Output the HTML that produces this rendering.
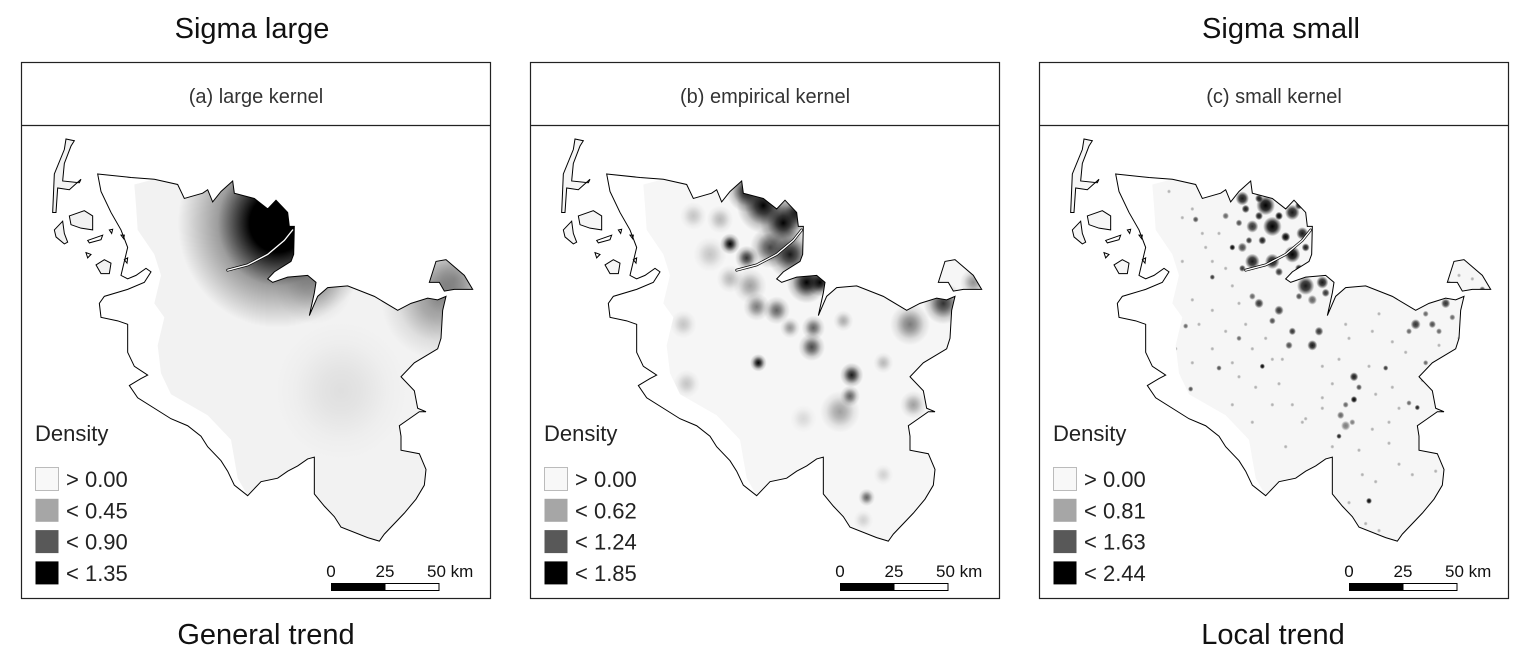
<!DOCTYPE html>
<html><head><meta charset="utf-8">
<style>
html,body{margin:0;padding:0;background:#fff;width:1528px;height:659px;overflow:hidden}
svg{display:block;font-family:"Liberation Sans",sans-serif}
</style></head>
<body>
<svg id="fig" width="1528" height="659" viewBox="0 0 1528 659" xmlns="http://www.w3.org/2000/svg">
<defs>
<radialGradient id="blob"><stop offset="0" stop-color="#000" stop-opacity="1"/><stop offset="0.3" stop-color="#000" stop-opacity="0.75"/><stop offset="0.7" stop-color="#000" stop-opacity="0.2"/><stop offset="1" stop-color="#000" stop-opacity="0"/></radialGradient>
<radialGradient id="dot"><stop offset="0" stop-color="#000" stop-opacity="1"/><stop offset="0.5" stop-color="#000" stop-opacity="0.8"/><stop offset="1" stop-color="#000" stop-opacity="0"/></radialGradient>
<radialGradient id="bigblob"><stop offset="0" stop-color="#000" stop-opacity="1"/><stop offset="0.28" stop-color="#000" stop-opacity="1"/><stop offset="0.6" stop-color="#000" stop-opacity="0.35"/><stop offset="1" stop-color="#000" stop-opacity="0"/></radialGradient>
</defs>
<text x="252" y="38" font-size="29" text-anchor="middle" fill="#111">Sigma large</text>
<text x="1281" y="38" font-size="29" text-anchor="middle" fill="#111">Sigma small</text>
<text x="266" y="644" font-size="29" text-anchor="middle" fill="#111">General trend</text>
<text x="1273" y="644" font-size="29" text-anchor="middle" fill="#111">Local trend</text>
<g id="panels"></g>
</svg>
<script>
const panelTitles = ["(a) large kernel","(b) empirical kernel","(c) small kernel"];
const legendA = ["> 0.00","< 0.45","< 0.90","< 1.35"];
const legendB = ["> 0.00","< 0.62","< 1.24","< 1.85"];
const legendC = ["> 0.00","< 0.81","< 1.63","< 2.44"];
const legendColors = ["#f8f8f8","#a6a6a6","#585858","#000000"];
const scaleTicks = ["0","25","50 km"];
// density kernels [x, y, radius, intensity] in map units
const blobsA = [[770,470,300,1],[960,950,200,0.08],[1250,690,170,0.4],[1300,630,110,0.3],[880,640,120,0.25]];
const blobsB = [[700,420,80,1],[760,470,70,1],[650,380,60,0.9],[800,440,50,0.9],[780,560,70,0.9],[720,540,60,0.7],[600,530,30,1],[650,570,35,0.8],[830,640,60,1],[870,640,40,1],[1240,700,60,0.8],[1140,760,60,0.5],[740,720,40,0.6],[680,710,40,0.5],[850,770,35,0.6],[845,825,40,0.7],[780,770,30,0.4],[685,870,25,1],[965,905,35,0.9],[960,965,30,0.6],[930,1010,60,0.35],[1010,1255,25,0.6],[490,450,40,0.2],[570,460,40,0.25],[460,760,40,0.2],[470,930,40,0.2],[1150,990,40,0.35],[1060,870,30,0.25],[940,750,30,0.3],[660,650,50,0.35],[600,630,40,0.25],[1330,640,40,0.4],[1060,1190,30,0.15],[1000,1320,30,0.15],[540,560,50,0.2],[820,1030,40,0.12]];
const blobsC = [[610,400,20,.9],[680,420,28,1],[700,480,28,1],[640,480,18,.8],[760,440,22,.9],[790,500,18,.9],[760,560,24,1],[700,580,22,.9],[640,580,22,.9],[610,540,14,.7],[580,540,9,1],[560,450,10,.6],[800,650,26,.9],[850,640,18,.9],[820,690,14,.6],[660,700,14,.8],[720,720,14,.8],[760,780,11,.8],[820,820,15,.9],[840,780,13,.8],[750,820,11,.7],[1130,760,15,.8],[1180,760,11,.7],[1220,700,14,.8],[1240,740,9,.6],[1330,660,9,.7],[945,910,13,.9],[945,975,10,1],[905,1020,11,.6],[920,1050,14,.5],[900,1080,8,.9],[990,1265,9,1],[670,880,8,1],[1040,885,8,.8],[1135,998,8,.9],[1110,985,8,.6],[470,460,9,.7],[520,625,8,.8],[455,945,8,.7],[540,885,8,.7],[440,765,8,.6],[600,800,8,.6],[1160,870,8,.6],
 [620,430,12,.9],[660,400,12,.9],[730,400,14,1],[780,420,12,.9],[720,450,12,1],[660,450,12,.9],[600,470,10,.7],[740,510,14,1],[800,540,12,.9],[670,520,12,.9],[630,520,10,.8],[720,610,12,.8],[780,600,12,.9],[610,600,10,.8],[860,670,12,.8],[780,680,10,.7],[700,750,10,.7],[640,680,10,.6],[1200,780,9,.6],[1160,730,9,.6],[1110,780,9,.6],[960,940,9,.7],[920,990,9,.6],[940,1040,9,.5]];
const dotsC = [[390,380],[430,455],[460,430],[490,500],[520,580],[560,600],[430,580],[400,630],[460,690],[480,760],[520,830],[580,870],[600,910],[650,940],[720,930],[760,990],[800,1030],[850,970],[880,930],[990,880],[1010,960],[1060,940],[1080,1000],[1000,1060],[1050,1100],[1080,1160],[1120,1190],[970,1190],[1010,1210],[930,1270],[980,1330],[1020,1350],[740,1110],[790,1040],[700,860],[640,830],[560,780],[1000,780],[1060,810],[1020,730],[1200,820],[1260,620],[1300,630],[1230,640],[350,510],[410,830],[460,870],[580,990],[920,760],[930,800],[500,540],[540,500],[580,650],[620,760],[680,800],[730,860],[850,880],[900,860],[1100,840],[1150,920],[1050,1040],[960,1120],[880,1110],[1150,1060],[1190,1180],[850,1000],[700,990],[640,1040],[600,700],[520,720],[1120,700],[1260,800]];

const outline = "M230,330 L330,340 400,345 470,360 490,400 545,385 560,375 575,410 600,380 635,350 640,385 700,400 740,430 765,405 800,440 805,480 820,480 818,560 810,580 760,610 740,630 755,640 800,625 860,620 885,640 880,670 865,735 890,680 920,655 980,650 1060,680 1130,720 1170,700 1220,685 1250,690 1275,680 1265,720 1260,800 1250,830 1180,870 1140,910 1180,950 1190,1000 1215,1010 1195,1010 1165,1030 1135,1050 1140,1080 1140,1120 1195,1130 1215,1175 1210,1220 1185,1260 1150,1300 1090,1360 1075,1380 1040,1370 960,1340 940,1310 910,1280 880,1245 880,1200 880,1140 860,1145 830,1165 800,1180 770,1200 720,1210 700,1230 680,1250 640,1220 620,1180 600,1150 560,1110 540,1080 500,1050 450,1030 400,1000 350,970 325,935 360,915 380,905 340,880 320,840 320,800 320,760 290,750 240,740 235,700 250,680 320,660 370,640 390,610 375,600 345,620 320,630 300,620 310,580 320,540 300,490 270,440 240,380 Z";
const inner = "M340,360 L400,345 470,360 490,400 545,385 560,375 575,410 600,380 635,350 640,385 700,400 740,430 765,405 800,440 805,480 820,480 818,560 810,580 760,610 740,630 755,640 800,625 860,620 885,640 880,670 865,735 890,680 920,655 980,650 1060,680 1130,720 1170,700 1220,685 1250,690 1275,680 1265,720 1260,800 1250,830 1180,870 1140,910 1180,950 1190,1000 1215,1010 1195,1010 1165,1030 1135,1050 1140,1080 1140,1120 1195,1130 1215,1175 1210,1220 1185,1260 1150,1300 1090,1360 1075,1380 1040,1370 960,1340 940,1310 910,1280 880,1245 880,1200 880,1140 860,1145 830,1165 800,1180 770,1200 720,1210 700,1230 680,1250 650,1200 630,1090 560,1020 450,960 420,900 410,820 430,740 400,700 420,620 400,560 350,490 345,420 Z";
const fehmarn = "M1225,640 L1245,580 1275,575 1330,620 1355,660 1300,660 1270,665 1255,640 Z";
const islands = ["M95,440 L100,330 130,260 135,230 160,235 150,250 130,300 125,350 175,355 180,345 145,375 110,370 105,440 Z",
 "M145,450 L190,435 215,450 215,490 180,485 150,475 Z",
 "M100,490 L125,465 130,500 140,525 130,530 105,510 Z",
 "M225,590 L250,575 270,585 265,615 240,615 Z",
 "M200,520 L245,505 240,518 205,527 Z",
 "M265,490 L275,488 272,500 Z","M300,505 L310,505 308,515 Z","M195,555 L210,560 200,570 Z","M310,575 L320,570 318,585 Z"];
const schlei = "M620,605 L680,590 740,560 790,520 815,490";

const NS="http://www.w3.org/2000/svg";
function mk(tag, attrs, parent){const e=document.createElementNS(NS,tag);for(const k in attrs)e.setAttribute(k,attrs[k]);parent.appendChild(e);return e;}
const root=document.getElementById('panels');
const panelX=[21,530,1039];
const legends=[legendA,legendB,legendC];
const blobSets=[blobsA,blobsB,blobsC];
const mapSX=1/3, mapSY=1/2.86;

panelX.forEach((px,i)=>{
  const g=mk('g',{},root);
  
  
  const frame=mk('rect',{x:px+0.5,y:62.5,width:469,height:536,fill:'#fff',stroke:'#222','stroke-width':1.2},g);
  
  
  const div=mk('line',{x1:px,x2:px+470,y1:125.5,y2:125.5,stroke:'#222','stroke-width':1.2},g);
  
  
  const t=mk('text',{x:px+235,y:103,'font-size':20,'text-anchor':'middle',fill:'#333'},g);
  t.textContent=panelTitles[i];
  
  

  const m=mk('g',{transform:`translate(${px},58.6) scale(${mapSX},${mapSY})`},g);
  
  
  const cid='clip'+i;
  const cp=mk('clipPath',{id:cid},m);
  mk('path',{d:inner},cp); mk('path',{d:fehmarn},cp); mk('path',{d:islands[0]},cp); mk('path',{d:islands[1]},cp); mk('path',{d:islands[2]},cp); mk('path',{d:islands[3]},cp);
  const dens=mk('g',{'clip-path':`url(#${cid})`},m);
  mk('rect',{x:0,y:0,width:1500,height:1600,fill:i===0?'#f2f2f2':'#f6f6f6'},dens);
  blobSets[i].forEach(b=>{
    const fill = i===0&&b[3]===1 ? 'url(#bigblob)' : (i===2 ? 'url(#dot)' : 'url(#blob)');
    const c=mk('circle',{cx:b[0],cy:b[1],r:b[2],fill:fill,opacity:b[3]},dens);
    
    
  });
  if(i===2){
    dotsC.forEach(d=>{
      const c=mk('circle',{cx:d[0],cy:d[1],r:6,fill:'url(#dot)',opacity:0.3},dens);
      
      
    });
  }
  const ol=mk('path',{d:outline,fill:'none',stroke:'#000','stroke-width':1,'vector-effect':'non-scaling-stroke'},m);
  
  
  mk('path',{d:fehmarn,fill:'none',stroke:'#000','stroke-width':1,'vector-effect':'non-scaling-stroke'},m);
  islands.forEach(s=>{mk('path',{d:s,fill:'none',stroke:'#000','stroke-width':1,'vector-effect':'non-scaling-stroke'},m);});
  mk('path',{d:schlei,fill:'none',stroke:'#000','stroke-width':8,'stroke-linecap':'round'},m);
  mk('path',{d:schlei,fill:'none',stroke:'#fff','stroke-width':4,'stroke-linecap':'round'},m);

  const lg=mk('g',{},g);
  
  
  const lt=mk('text',{x:px+14,y:441,'font-size':22,fill:'#222'},lg);
  lt.textContent='Density';
  
  
  legends[i].forEach((lab,k)=>{
    const y=467+k*31.3;
    const r=mk('rect',{x:px+14.5,y:y+0.5,width:23,height:23,fill:legendColors[k],stroke:'#bbb','stroke-width':k===0?1:0},lg);
    
    
    const tx=mk('text',{x:px+45,y:y+20,'font-size':22,fill:'#222'},lg);
    tx.textContent=lab;
    
    
  });

  const sb=mk('g',{},g);
  
  
  const sx=px+310;
  mk('rect',{x:sx,y:583,width:54,height:8,fill:'#000'},sb);
  mk('rect',{x:sx+54,y:583.5,width:54,height:7,fill:'#fff',stroke:'#000','stroke-width':1},sb);
  const tpos=[sx,sx+54,sx+108];
  scaleTicks.forEach((s,k)=>{
    const tx=mk('text',{x:tpos[k]+(k===2?-12:0),y:577,'font-size':17,'text-anchor':k===2?'start':'middle',fill:'#111'},sb);
    tx.textContent=s;
    
    
  });
});
</script>
</body></html>
